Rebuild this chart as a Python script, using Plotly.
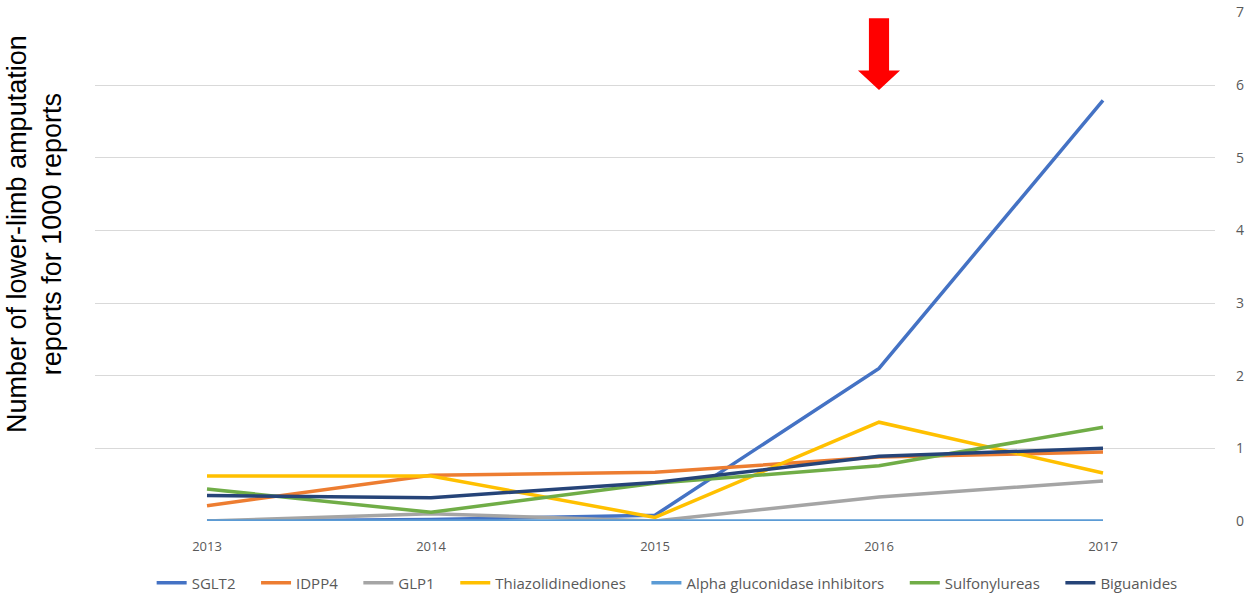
import plotly.graph_objects as go

years = ["2013", "2014", "2015", "2016", "2017"]

sglt2 = [0.0, 0.02, 0.08, 2.10, 5.79]
idpp4 = [0.21, 0.63, 0.67, 0.88, 0.95]
glp1 = [0.0, 0.10, 0.0, 0.33, 0.55]
thiazolidinediones = [0.62, 0.62, 0.05, 1.36, 0.66]
alpha_gluc = [0.0, 0.0, 0.0, 0.0, 0.0]
sulfonylureas = [0.44, 0.12, 0.52, 0.76, 1.29]
biguanides = [0.35, 0.32, 0.53, 0.89, 1.00]

series = [
    ("SGLT2", sglt2, "#4472C4"),
    ("IDPP4", idpp4, "#ED7D31"),
    ("GLP1", glp1, "#A5A5A5"),
    ("Thiazolidinediones", thiazolidinediones, "#FFC000"),
    ("Alpha gluconidase inhibitors", alpha_gluc, "#5B9BD5"),
    ("Sulfonylureas", sulfonylureas, "#70AD47"),
    ("Biguanides", biguanides, "#264478"),
]

# a little trailing space widens the gap between legend entries
pad = "\u00a0" * 4

fig = go.Figure()
for name, vals, color in series:
    fig.add_trace(go.Scatter(
        x=list(range(len(years))), y=vals, name=name + pad, mode="lines",
        line=dict(color=color, width=3.5),
    ))

# red arrow pointing at 2016
ax = 3
fig.add_shape(
    type="path", xref="x", yref="y",
    path=(f"M {ax-0.045},6.92 L {ax+0.045},6.92 L {ax+0.045},6.2 L {ax+0.094},6.2 "
          f"L {ax},5.93 L {ax-0.094},6.2 L {ax-0.045},6.2 Z"),
    fillcolor="#FF0000", line=dict(width=0), layer="above",
)

fig.add_annotation(
    text="Number of lower-limb amputation<br>reports for 1000 reports",
    xref="paper", yref="paper", x=-0.054, y=0.563, xanchor="center", yanchor="middle",
    textangle=-90, showarrow=False,
    font=dict(family="Liberation Sans, Arial", size=27, color="#000000"),
)

fig.update_layout(
    width=1245, height=595,
    margin=dict(l=95, r=30, t=12, b=74, autoexpand=False),
    paper_bgcolor="white", plot_bgcolor="white",
    font=dict(family="Open Sans, Liberation Sans", size=12, color="#595959"),
    xaxis=dict(
        tickmode="array", tickvals=list(range(len(years))), ticktext=years,
        range=[-0.5, 4.5], showgrid=False, zeroline=False, showline=False,
        ticks="", tickfont=dict(size=13, color="#595959"),
        ticklabelstandoff=16, automargin=False,
    ),
    yaxis=dict(
        side="right", range=[0, 7.005], dtick=1, showgrid=True, gridcolor="#D9D9D9",
        gridwidth=1, zeroline=False, showline=False, ticks="",
        tickfont=dict(size=14, color="#595959"), ticklabelstandoff=20,
        automargin=False,
    ),
    legend=dict(
        orientation="h", x=0.518, xanchor="center",
        yref="container", y=0.02, yanchor="middle",
        font=dict(size=15, color="#595959"), tracegroupgap=0,
    ),
    showlegend=True,
)

fig.write_html("out.html")
